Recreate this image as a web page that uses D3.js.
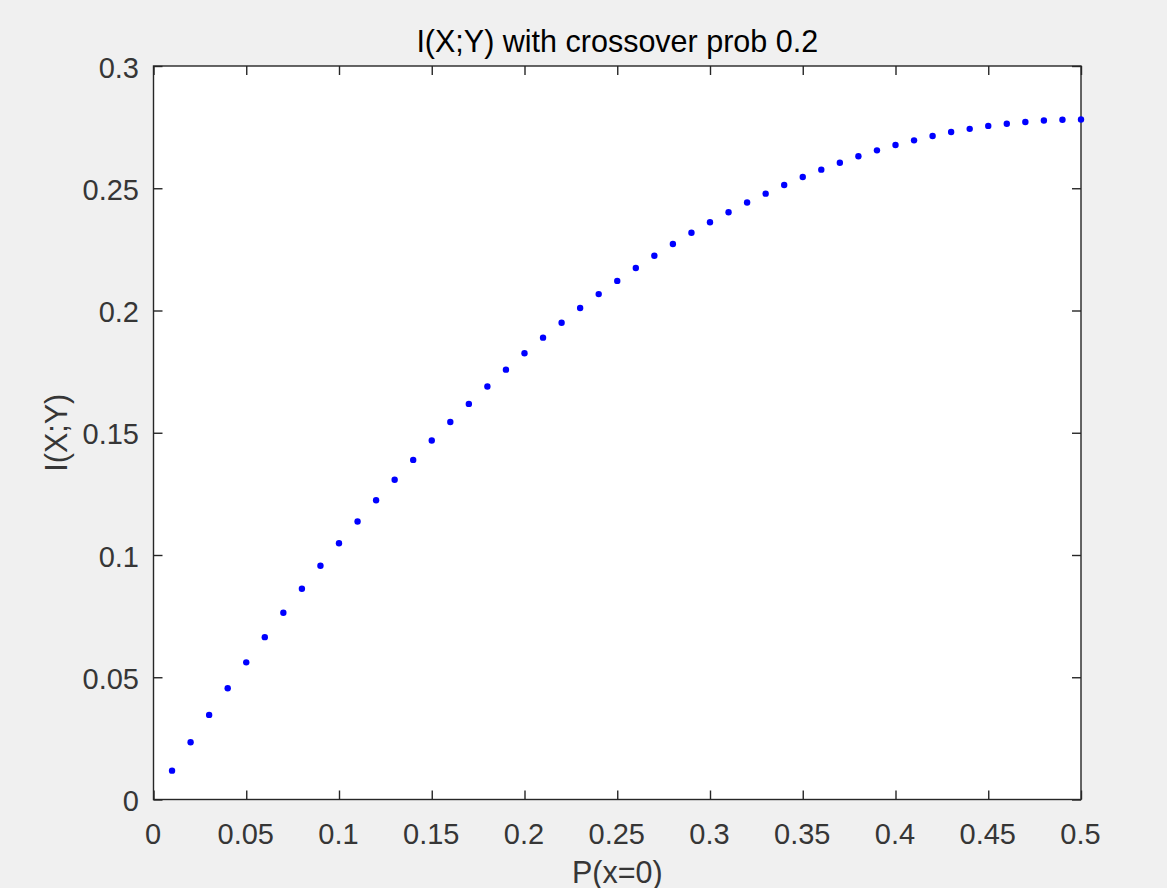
<!DOCTYPE html>
<html>
<head>
<meta charset="utf-8">
<script src="https://cdn.jsdelivr.net/npm/d3@7"></script>
<style>
  html, body { margin: 0; padding: 0; background: #f0f0f0; }
  svg { display: block; }
  text { font-family: "Liberation Sans", Arial, Helvetica, sans-serif; }
</style>
</head>
<body>
<svg id="chart" width="1167" height="888"></svg>
<script>
// Input probability P(x=0)
const pValues = [
  0.01, 0.02, 0.03, 0.04, 0.05, 0.06, 0.07, 0.08, 0.09, 0.10,
  0.11, 0.12, 0.13, 0.14, 0.15, 0.16, 0.17, 0.18, 0.19, 0.20,
  0.21, 0.22, 0.23, 0.24, 0.25, 0.26, 0.27, 0.28, 0.29, 0.30,
  0.31, 0.32, 0.33, 0.34, 0.35, 0.36, 0.37, 0.38, 0.39, 0.40,
  0.41, 0.42, 0.43, 0.44, 0.45, 0.46, 0.47, 0.48, 0.49, 0.50
];

// Mutual information I(X;Y) in bits for a binary symmetric channel, crossover 0.2
const mutualInfo = [
  0.0118, 0.0234, 0.0346, 0.0455, 0.0561, 0.0664, 0.0764, 0.0862, 0.0956, 0.1048,
  0.1137, 0.1224, 0.1308, 0.1389, 0.1468, 0.1544, 0.1618, 0.1689, 0.1758, 0.1825,
  0.1889, 0.1950, 0.2010, 0.2067, 0.2121, 0.2174, 0.2224, 0.2272, 0.2318, 0.2361,
  0.2402, 0.2442, 0.2478, 0.2513, 0.2546, 0.2576, 0.2604, 0.2631, 0.2655, 0.2677,
  0.2696, 0.2714, 0.2730, 0.2743, 0.2755, 0.2764, 0.2771, 0.2777, 0.2780, 0.2781
];

const xTicks = [0, 0.05, 0.1, 0.15, 0.2, 0.25, 0.3, 0.35, 0.4, 0.45, 0.5];
const xTickLabels = ["0", "0.05", "0.1", "0.15", "0.2", "0.25", "0.3", "0.35", "0.4", "0.45", "0.5"];
const yTicks = [0, 0.05, 0.1, 0.15, 0.2, 0.25, 0.3];
const yTickLabels = ["0", "0.05", "0.1", "0.15", "0.2", "0.25", "0.3"];

const titleText = "I(X;Y) with crossover prob 0.2";
const xLabelText = "P(x=0)";
const yLabelText = "I(X;Y)";

const svg = d3.select("#chart");
const box = { left: 153.5, right: 1081, top: 66, bottom: 799.5 };
const axisColor = "#262626";
const labelColor = "#363636";
const tickLen = 9;

const x = d3.scaleLinear().domain([0, 0.5]).range([box.left, box.right]);
const y = d3.scaleLinear().domain([0, 0.3]).range([box.bottom, box.top]);

// Plot background
svg.append("rect")
  .attr("x", box.left).attr("y", box.top)
  .attr("width", box.right - box.left).attr("height", box.bottom - box.top)
  .attr("fill", "#ffffff");

// Axes with inward ticks on all four sides
function styleAxis(g) {
  g.select(".domain").remove();
  g.selectAll(".tick line").attr("stroke", axisColor).attr("stroke-width", 1.4);
  g.selectAll(".tick text")
    .attr("fill", labelColor)
    .style("font-size", "29px");
}

const fmtX = (d, i) => xTickLabels[i];
const fmtY = (d, i) => yTickLabels[i];

svg.append("g")
  .attr("transform", `translate(0,${box.bottom})`)
  .call(d3.axisBottom(x).tickValues(xTicks).tickFormat(fmtX).tickSizeInner(-tickLen).tickSizeOuter(0).tickPadding(0))
  .call(styleAxis)
  .call(g => g.selectAll(".tick text").attr("x", -1).attr("y", 44).attr("dy", null));

svg.append("g")
  .attr("transform", `translate(0,${box.top})`)
  .call(d3.axisTop(x).tickValues(xTicks).tickFormat("").tickSizeInner(-tickLen).tickSizeOuter(0))
  .call(styleAxis);

svg.append("g")
  .attr("transform", `translate(${box.left},0)`)
  .call(d3.axisLeft(y).tickValues(yTicks).tickFormat(fmtY).tickSizeInner(-tickLen).tickSizeOuter(0).tickPadding(0))
  .call(styleAxis)
  .call(g => g.selectAll(".tick text").attr("x", -14.5).attr("dy", null).attr("y", 11));

svg.append("g")
  .attr("transform", `translate(${box.right},0)`)
  .call(d3.axisRight(y).tickValues(yTicks).tickFormat("").tickSizeInner(-tickLen).tickSizeOuter(0))
  .call(styleAxis);

// Box outline
svg.append("rect")
  .attr("x", box.left).attr("y", box.top)
  .attr("width", box.right - box.left).attr("height", box.bottom - box.top)
  .attr("fill", "none")
  .attr("stroke", axisColor)
  .attr("stroke-width", 1.4);

// Data points
svg.append("g")
  .selectAll("circle")
  .data(pValues.map((p, i) => ({ p, v: mutualInfo[i] })))
  .join("circle")
  .attr("cx", d => x(d.p))
  .attr("cy", d => y(d.v))
  .attr("r", 3.2)
  .attr("fill", "#0000ff");

// Title and axis labels
svg.append("text")
  .attr("x", (box.left + box.right) / 2)
  .attr("y", 52)
  .attr("text-anchor", "middle")
  .attr("fill", "#000000")
  .style("font-size", "30.5px")
  .text(titleText);

svg.append("text")
  .attr("x", (box.left + box.right) / 2)
  .attr("y", 883)
  .attr("text-anchor", "middle")
  .attr("fill", labelColor)
  .style("font-size", "30.5px")
  .text(xLabelText);

svg.append("text")
  .attr("transform", `translate(67,${(box.top + box.bottom) / 2}) rotate(-90)`)
  .attr("text-anchor", "middle")
  .attr("fill", labelColor)
  .style("font-size", "30.5px")
  .text(yLabelText);
</script>
</body>
</html>
